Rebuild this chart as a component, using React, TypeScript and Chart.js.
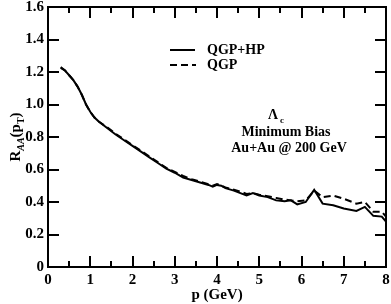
import React, { useEffect, useRef } from "react";
import { Chart, registerables } from "chart.js";

Chart.register(...registerables);

const ptValues = [0.3, 0.4, 0.5, 0.6, 0.7, 0.8, 0.9, 1.0, 1.1, 1.2, 1.4, 1.6, 1.8, 2.0, 2.2, 2.4, 2.6, 2.8, 3.0, 3.2, 3.4, 3.6, 3.8, 3.9, 4.0, 4.1, 4.2, 4.4, 4.6, 4.7, 4.85, 5.0, 5.2, 5.4, 5.6, 5.75, 5.9, 6.1, 6.3, 6.5, 6.75, 7.0, 7.3, 7.5, 7.7, 7.9, 8.0];
const qgpHpValues = [1.23, 1.21, 1.18, 1.15, 1.11, 1.06, 1.0, 0.955, 0.92, 0.895, 0.855, 0.815, 0.78, 0.745, 0.71, 0.675, 0.64, 0.605, 0.58, 0.55, 0.535, 0.52, 0.505, 0.495, 0.505, 0.5, 0.485, 0.47, 0.45, 0.44, 0.455, 0.44, 0.43, 0.41, 0.405, 0.41, 0.385, 0.40, 0.475, 0.39, 0.38, 0.36, 0.345, 0.37, 0.315, 0.31, 0.28];
const qgpValues = [1.225, 1.21, 1.18, 1.15, 1.11, 1.06, 1.0, 0.955, 0.92, 0.895, 0.86, 0.82, 0.785, 0.75, 0.715, 0.68, 0.645, 0.61, 0.585, 0.56, 0.54, 0.525, 0.51, 0.5, 0.51, 0.5, 0.49, 0.475, 0.46, 0.45, 0.455, 0.445, 0.435, 0.425, 0.415, 0.41, 0.405, 0.41, 0.47, 0.43, 0.44, 0.42, 0.39, 0.40, 0.34, 0.34, 0.31];
const xTickLabels = ["0", "1", "2", "3", "4", "5", "6", "7", "8"];
const legendLabels = ["QGP+HP", "QGP"];
const annotationLines = ["Minimum Bias", "Au+Au @ 200 GeV"];

const FONT = "'Liberation Serif', 'DejaVu Serif', serif";

const decorPlugin = {
  id: "decor",
  afterDraw(chart: any) {
    const ctx = chart.ctx as CanvasRenderingContext2D;
    const xs = chart.scales.x;
    const ys = chart.scales.y;
    const left = Math.round(xs.getPixelForValue(0));
    const right = Math.round(xs.getPixelForValue(8));
    const top = Math.round(ys.getPixelForValue(1.6));
    const bottom = Math.round(ys.getPixelForValue(0));
    ctx.save();
    ctx.setLineDash([]);
    // frame
    ctx.strokeStyle = "#000000";
    ctx.lineWidth = 2;
    ctx.strokeRect(left, top, right - left, bottom - top);
    // ticks
    ctx.beginPath();
    for (let i = 0; i <= 16; i++) {
      const px = Math.round(xs.getPixelForValue(i * 0.5));
      const len = i % 2 === 0 ? 11 : 6;
      ctx.moveTo(px, bottom);
      ctx.lineTo(px, bottom - len);
      ctx.moveTo(px, top);
      ctx.lineTo(px, top + len);
    }
    for (let i = 0; i <= 8; i++) {
      const py = Math.round(ys.getPixelForValue(i * 0.2));
      ctx.moveTo(left, py);
      ctx.lineTo(left + 11, py);
      ctx.moveTo(right, py);
      ctx.lineTo(right - 11, py);
    }
    ctx.stroke();

    ctx.fillStyle = "#000";
    // legend
    ctx.strokeStyle = "#000";
    ctx.lineWidth = 2;
    ctx.beginPath();
    ctx.moveTo(170, 50);
    ctx.lineTo(195, 50);
    ctx.stroke();
    ctx.setLineDash([7, 4]);
    ctx.beginPath();
    ctx.moveTo(170, 65);
    ctx.lineTo(196, 65);
    ctx.stroke();
    ctx.setLineDash([]);
    ctx.font = `bold 14px ${FONT}`;
    ctx.textAlign = "left";
    ctx.textBaseline = "middle";
    ctx.fillText(legendLabels[0], 207, 50);
    ctx.fillText(legendLabels[1], 207, 65);

    // annotation
    ctx.textAlign = "center";
    ctx.font = `bold 14px ${FONT}`;
    ctx.fillText("Λ", 273, 115);
    ctx.font = `bold 9px ${FONT}`;
    ctx.fillText("c", 282, 121);
    ctx.font = `bold 14px ${FONT}`;
    ctx.fillText(annotationLines[0], 286, 132);
    ctx.fillText(annotationLines[1], 289, 148);

    // y title
    ctx.translate(20, 137);
    ctx.rotate(-Math.PI / 2);
    ctx.textAlign = "left";
    ctx.textBaseline = "alphabetic";
    const parts: [string, string, number][] = [
      ["R", `bold 15px ${FONT}`, 0],
      ["AA", `bold italic 10px ${FONT}`, 4],
      ["(p", `bold 15px ${FONT}`, 0],
      ["T", `bold 10px ${FONT}`, 4],
      [")", `bold 15px ${FONT}`, 0],
    ];
    let total = 0;
    for (const [t, f] of parts) {
      ctx.font = f;
      total += ctx.measureText(t).width;
    }
    let x = -total / 2;
    for (const [t, f, dy] of parts) {
      ctx.font = f;
      ctx.fillText(t, x, dy);
      x += ctx.measureText(t).width;
    }
    ctx.restore();
  },
};

export default function App() {
  const ref = useRef<HTMLCanvasElement | null>(null);
  useEffect(() => {
    document.body.style.margin = "0";
    const canvas = ref.current!;
    const chart = new Chart(canvas, {
      type: "scatter",
      data: {
        datasets: [
          {
            label: legendLabels[0],
            data: ptValues.map((p, i) => ({ x: p, y: qgpHpValues[i] })),
            showLine: true,
            borderColor: "#000",
            borderWidth: 2,
            pointRadius: 0,
            tension: 0,
          },
          {
            label: legendLabels[1],
            data: ptValues.map((p, i) => ({ x: p, y: qgpValues[i] })),
            showLine: true,
            borderColor: "#000",
            borderWidth: 2,
            borderDash: [7, 4],
            pointRadius: 0,
            tension: 0,
          },
        ],
      },
      options: {
        responsive: false,
        animation: false,
        layout: { padding: { left: 0, right: 5, top: 7, bottom: 0 } },
        plugins: { legend: { display: false }, tooltip: { enabled: false } },
        scales: {
          x: {
            type: "linear",
            min: 0,
            max: 8,
            grid: { display: false, drawTicks: false },
            border: { display: false },
            ticks: {
              stepSize: 1,
              color: "#000",
              padding: 4,
              font: { family: FONT, size: 15, weight: "bold" },
              callback: (v: any) => xTickLabels[Math.round(Number(v))] ?? "",
            },
            title: {
              display: true,
              text: "p (GeV)",
              color: "#000",
              padding: { top: 0, bottom: 0 },
              font: { family: FONT, size: 15, weight: "bold" },
            },
            afterFit: (s: any) => {
              s.height = 37;
              s.paddingLeft = 0;
              s.paddingRight = 0;
            },
          },
          y: {
            type: "linear",
            min: 0,
            max: 1.6,
            grid: { display: false, drawTicks: false },
            border: { display: false },
            ticks: {
              stepSize: 0.2,
              color: "#000",
              padding: 4,
              font: { family: FONT, size: 15, weight: "bold" },
            },
            afterFit: (s: any) => {
              s.width = 48;
              s.paddingTop = 0;
              s.paddingBottom = 0;
            },
          },
        },
      },
      plugins: [decorPlugin],
    } as any);
    return () => chart.destroy();
  }, []);
  return (
    <div style={{ position: "absolute", left: 0, top: 0, width: 391, height: 304 }}>
      <canvas ref={ref} width={391} height={304} />
    </div>
  );
}
